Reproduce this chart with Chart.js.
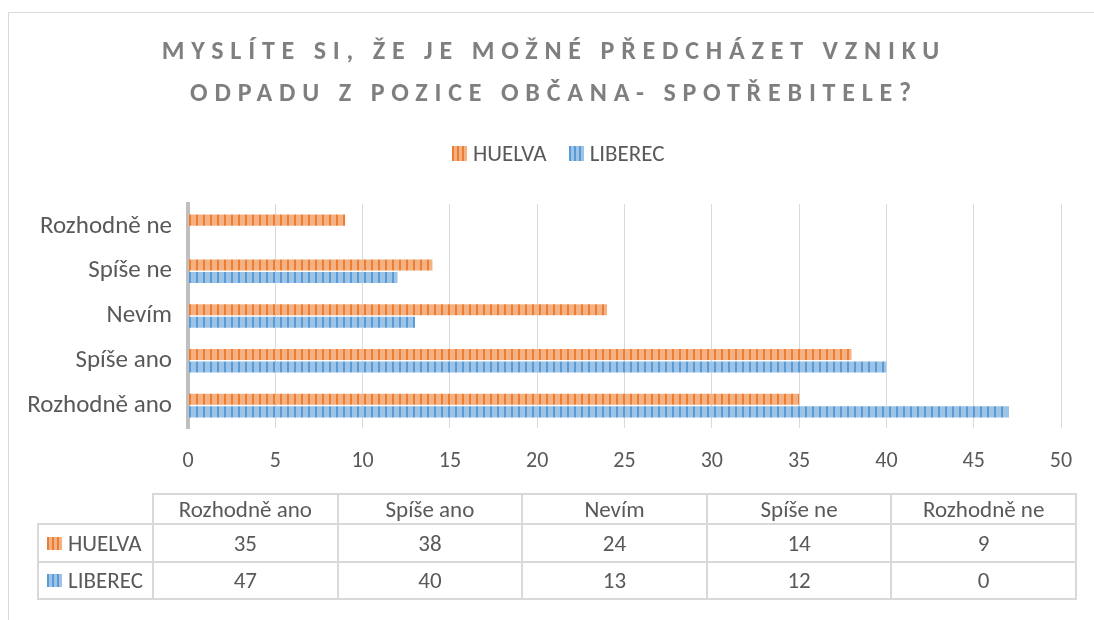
<!DOCTYPE html>
<html>
<head>
<meta charset="utf-8">
<title>Myslíte si, že je možné předcházet vzniku odpadu</title>
<script src="https://cdn.jsdelivr.net/npm/chart.js@4"></script>
<style>
  body { margin: 0; background: #fff; font-family: Carlito, "Liberation Sans", Arial, sans-serif; color: #595959; }
  #wrap { position: relative; width: 1094px; height: 620px; overflow: hidden; background: #fff; }
  #frame { position: absolute; left: 8px; top: 12px; width: 1100px; height: 640px; border: 1px solid #d9d9d9; }
  #chart { position: absolute; left: 0; top: 0; }
  #title { position: absolute; left: 8px; width: 1092px; top: 29px; text-align: center; font-weight: bold;
           font-size: 26px; line-height: 42px; letter-spacing: 6.8px; color: #7f7f7f; }
  #legend { position: absolute; top: 139px; left: 452px; font-size: 23px; display: flex; align-items: center; }
  #legend span.item { display: flex; align-items: center; margin-right: 22px; }
  .sw { display: inline-block; width: 15px; height: 15px; margin-right: 6px; }
  .sw.small { height: 13px; }
  .orange { background: repeating-linear-gradient(90deg, #ed7d31 0 2px, #f4b183 2px 5px); }
  .blue { background: repeating-linear-gradient(90deg, #5b9bd5 0 2px, #9dc3e6 2px 5px); }
  #table { position: absolute; left: 37px; top: 493px; border-collapse: collapse; table-layout: fixed; font-size: 23px; }
  #table td { border: 2px solid #d9d9d9; text-align: center; padding: 0; color: #595959; line-height: 1; }
  #table td.empty { border-top: none; border-left: none; }
  #table td.name { text-align: left; padding-left: 8px; }
  #table td.name span { display: flex; align-items: center; }
</style>
</head>
<body>
<div id="wrap">
  <div id="frame"></div>
  <canvas id="chart" width="1094" height="620"></canvas>
  <div id="title">MYSLÍTE SI, ŽE JE MOŽNÉ PŘEDCHÁZET VZNIKU<br>ODPADU Z POZICE OBČANA- SPOTŘEBITELE?</div>
  <div id="legend"></div>
  <table id="table"></table>
</div>
<script>
// data
const categories = ["Rozhodně ano", "Spíše ano", "Nevím", "Spíše ne", "Rozhodně ne"];
const seriesNames = ["HUELVA", "LIBEREC"];
const huelva = [35, 38, 24, 14, 9];
const liberec = [47, 40, 13, 12, 0];
const seriesClass = ["orange", "blue"];

// vertical stripe fill like the office pattern
function stripes(light, dark) {
  const c = document.createElement("canvas");
  c.width = 7;
  c.height = 7;
  const g = c.getContext("2d");
  g.fillStyle = light;
  g.fillRect(0, 0, 7, 7);
  g.fillStyle = dark;
  g.fillRect(0, 0, 2, 7);
  return g.createPattern(c, "repeat");
}

const font = 'Carlito, "Liberation Sans", Arial, sans-serif';
Chart.defaults.font.family = font;
Chart.defaults.color = "#595959";

new Chart(document.getElementById("chart"), {
  type: "bar",
  data: {
    labels: categories,
    datasets: [
      { label: seriesNames[0], data: huelva, backgroundColor: stripes("#f4b183", "#ed7d31") },
      { label: seriesNames[1], data: liberec, backgroundColor: stripes("#9dc3e6", "#5b9bd5") },
    ],
  },
  options: {
    indexAxis: "y",
    responsive: false,
    animation: false,
    devicePixelRatio: 1,
    categoryPercentage: 0.56,
    barPercentage: 0.88,
    layout: { padding: { top: 204, left: 0, right: 33, bottom: 152 } },
    plugins: {
      legend: { display: false },
      title: { display: false },
      tooltip: { enabled: false },
    },
    scales: {
      x: {
        min: 0,
        max: 50,
        ticks: { stepSize: 5, font: { size: 22 }, color: "#595959", padding: 20 },
        grid: { color: "#d9d9d9", lineWidth: 1, drawTicks: false },
        border: { display: false },
        afterFit: (scale) => { scale.height = 40; },
      },
      y: {
        reverse: true,
        z: 1,
        ticks: { font: { size: 25 }, color: "#595959", padding: 16 },
        grid: { display: false, drawTicks: false },
        border: { color: "#bfbfbf", width: 4 },
        afterFit: (scale) => { scale.width = 188; },
      },
    },
  },
});

// legend
const legend = document.getElementById("legend");
seriesNames.forEach((name, i) => {
  const item = document.createElement("span");
  item.className = "item";
  item.innerHTML = '<i class="sw ' + seriesClass[i] + '"></i>' + name;
  legend.appendChild(item);
});

// data table under the chart
const table = document.getElementById("table");
const colgroup = document.createElement("colgroup");
colgroup.innerHTML = '<col style="width:115px">' + categories.map(() => '<col style="width:184.6px">').join("");
table.appendChild(colgroup);

const head = table.insertRow();
head.style.height = "30px";
head.insertCell().className = "empty";
categories.forEach((c) => { head.insertCell().textContent = c; });

[huelva, liberec].forEach((values, i) => {
  const row = table.insertRow();
  row.style.height = i === 0 ? "38px" : "37px";
  const nameCell = row.insertCell();
  nameCell.className = "name";
  nameCell.innerHTML = '<span><i class="sw small ' + seriesClass[i] + '"></i>' + seriesNames[i] + "</span>";
  values.forEach((v) => { row.insertCell().textContent = v; });
});
</script>
</body>
</html>
